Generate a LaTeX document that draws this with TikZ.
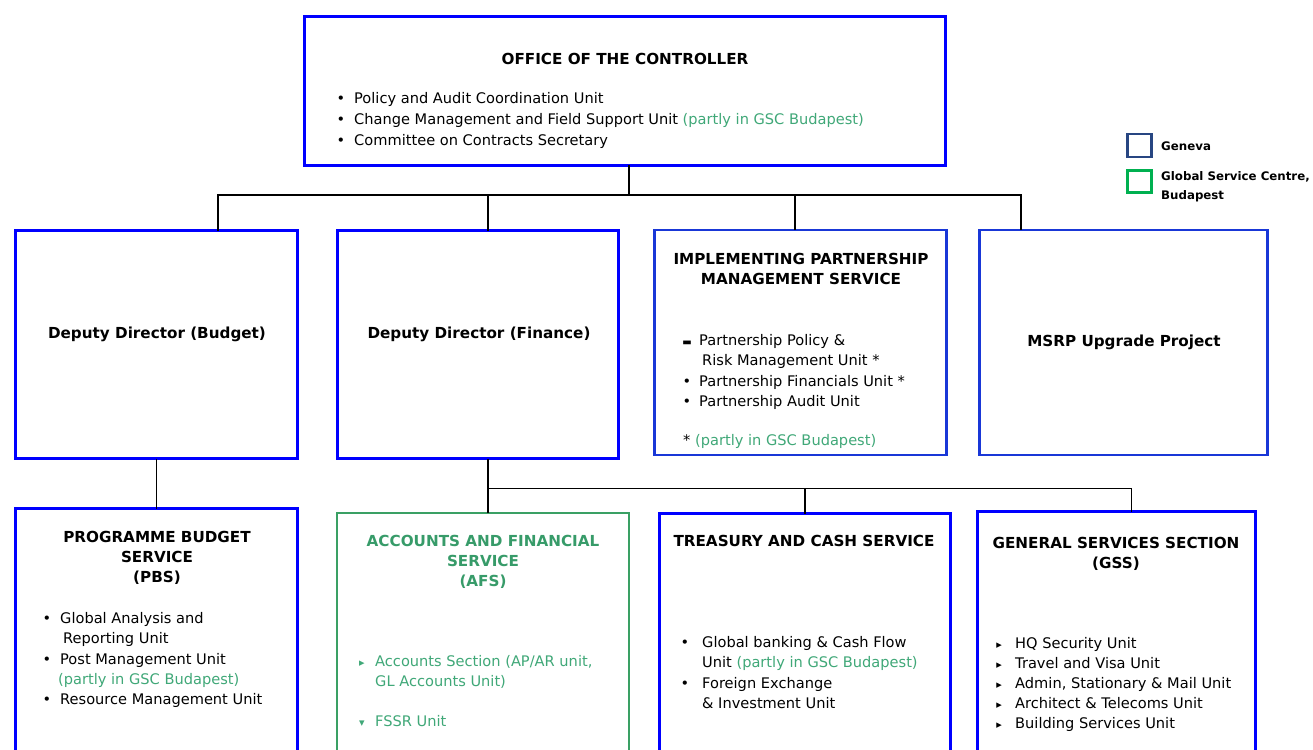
\documentclass[tikz,border=0pt]{standalone}
\usepackage{fontspec}
\setmainfont{DejaVu Sans}
\definecolor{bblue}{RGB}{0,0,255}
\definecolor{dblue}{RGB}{25,55,215}
\definecolor{gbox}{RGB}{58,160,100}
\definecolor{gtext}{RGB}{64,168,120}
\definecolor{gtitle}{RGB}{55,155,105}
\definecolor{legblue}{RGB}{40,70,130}
\definecolor{leggreen}{RGB}{0,176,80}
\tikzset{
  boxb/.style={draw=bblue,line width=3pt,inner sep=0,outer sep=0},
  boxd/.style={draw=dblue,line width=2.5pt,inner sep=0,outer sep=0},
  boxg/.style={draw=gbox,line width=2.5pt,inner sep=0,outer sep=0},
  legbox/.style={line width=2.2pt,inner sep=0,outer sep=0},
  txt/.style={inner sep=0,font=\fontsize{14.6}{17}\selectfont},
  ttl/.style={inner sep=0,font=\fontsize{15.2}{17}\selectfont\bfseries},
  bul/.style={inner sep=0,font=\fontsize{14.5}{17}\selectfont},
  legtxt/.style={inner sep=0,font=\fontsize{11.8}{14}\selectfont\bfseries,anchor=base west},
  conn/.style={line width=2pt,black},
  connthin/.style={line width=1pt,black},
}
\newcommand\MyBox[6]{\node[#6,anchor=north west,minimum width={(#4-#2)*1pt},minimum height={(#5-#3)*1pt}] (#1) at (#2,#3) {};}
\newcommand\MyItem[6]{\node[bul,anchor=base] (#1b) at (#3,#5) {#2};\node[txt,anchor=base west] (#1) at (#4,#5) {#6};}
\newcommand\MyLine[4]{\node[txt,anchor=base west] (#1) at (#2,#3) {#4};}
\newcommand\MyTitle[4]{\node[ttl,anchor=base] (#1) at (#2,#3) {#4};}
\begin{document}
\begin{tikzpicture}[x=1pt,y=-1pt]
\useasboundingbox[fill=white] (0,0) rectangle (1313,749);
% boxes
\MyBox{ctrl}{304.5}{16.5}{945}{165}{boxb}
\MyBox{ddb}{15.5}{230.5}{297.5}{458.5}{boxb}
\MyBox{ddf}{337.5}{230.5}{618.5}{458.5}{boxb}
\MyBox{ipms}{654.5}{230}{946.5}{455}{boxd}
\MyBox{msrp}{979.5}{230}{1267.5}{455}{boxd}
\MyBox{pbs}{15.5}{508.5}{297.5}{790}{boxb}
\MyBox{afs}{337}{513}{629}{790}{boxg}
\MyBox{tcs}{659.5}{513.5}{950.5}{790}{boxb}
\MyBox{gss}{977.5}{511.5}{1255.5}{790}{boxb}
% connectors
\coordinate (jT) at (629,195);
\coordinate (jA) at (218,195);
\coordinate (jB) at (488,195);
\coordinate (jC) at (795,195);
\coordinate (jD) at (1021,195);
\draw[conn] (ctrl.south -| jT) -- (jT);
\draw[conn] (jA |- ddb.north) -- (jA) -- (jD) -- (jD |- msrp.north);
\draw[conn] (jB) -- (jB |- ddf.north);
\draw[conn] (jC) -- (jC |- ipms.north);
\coordinate (jP) at (156.5,480);
\draw[connthin] (jP |- ddb.south) -- (jP |- pbs.north);
\coordinate (jF) at (488,488);
\coordinate (jG) at (805,488);
\coordinate (jH) at (1131,488);
\draw[conn] (jF |- ddf.south) -- (jF |- afs.north);
\draw[connthin] (jF) -- (jH) -- (jH |- gss.north);
\draw[conn] (jG) -- (jG |- tcs.north);
% office of the controller
\MyTitle{t1}{625}{65}{OFFICE OF THE CONTROLLER}
\MyItem{c1}{•}{341}{354}{104}{Policy and Audit Coordination Unit}
\MyItem{c2}{•}{341}{354}{124.5}{Change Management and Field Support Unit {\color{gtext}(partly in GSC Budapest)}}
\MyItem{c3}{•}{341}{354}{145.5}{Committee on Contracts Secretary}
% deputy directors
\MyTitle{t2}{157}{338}{Deputy Director (Budget)}
\MyTitle{t3}{479}{338}{Deputy Director (Finance)}
% IPMS
\MyTitle{t4a}{801}{264.5}{IMPLEMENTING PARTNERSHIP}
\MyTitle{t4b}{801}{284.5}{MANAGEMENT SERVICE}
\MyItem{i1}{\fontsize{10}{12}\selectfont ▬}{687}{699}{345}{Partnership Policy \&}
\MyLine{i1b}{702}{365}{Risk Management Unit *}
\MyItem{i2}{•}{687}{699}{386}{Partnership Financials Unit *}
\MyItem{i3}{•}{687}{699}{406}{Partnership Audit Unit}
\MyLine{i4}{683}{445}{* {\color{gtext}(partly in GSC Budapest)}}
% MSRP
\MyTitle{t5}{1124}{346}{MSRP Upgrade Project}
% PBS
\MyTitle{t6a}{157}{542.5}{PROGRAMME BUDGET}
\MyTitle{t6b}{157}{562.5}{SERVICE}
\MyTitle{t6c}{157}{582.5}{(PBS)}
\MyItem{p1}{•}{47}{60}{623}{Global Analysis and}
\MyLine{p1b}{63}{643}{Reporting Unit}
\MyItem{p2}{•}{47}{60}{664}{Post Management Unit}
\MyLine{p2b}{58}{684}{\color{gtext}(partly in GSC Budapest)}
\MyItem{p3}{•}{47}{60}{704}{Resource Management Unit}
% AFS
\node[ttl,anchor=base,text=gtitle] (t7a) at (483,546.5) {ACCOUNTS AND FINANCIAL};
\node[ttl,anchor=base,text=gtitle] (t7b) at (483,566.5) {SERVICE};
\node[ttl,anchor=base,text=gtitle] (t7c) at (483,586.5) {(AFS)};
\MyItem{a1}{\color{gtext}\fontsize{11}{13}\selectfont ▸}{362}{375}{666}{\color{gtext}Accounts Section (AP/AR unit,}
\MyLine{a1b}{375}{686}{\color{gtext}GL Accounts Unit)}
\MyItem{a2}{\color{gtext}\fontsize{11}{13}\selectfont ▾}{362}{375}{726}{\color{gtext}FSSR Unit}
% Treasury
\MyTitle{t8}{804}{546.5}{TREASURY AND CASH SERVICE}
\MyItem{r1}{•}{685}{702}{647}{Global banking \& Cash Flow}
\MyLine{r1b}{702}{667}{Unit {\color{gtext}(partly in GSC Budapest)}}
\MyItem{r2}{•}{685}{702}{688}{Foreign Exchange}
\MyLine{r2b}{702}{708}{\& Investment Unit}
% GSS
\MyTitle{t9a}{1116}{548.5}{GENERAL SERVICES SECTION}
\MyTitle{t9b}{1116}{568.5}{(GSS)}
\MyItem{g1}{\fontsize{11}{13}\selectfont ▸}{999}{1015}{648}{HQ Security Unit}
\MyItem{g2}{\fontsize{11}{13}\selectfont ▸}{999}{1015}{668}{Travel and Visa Unit}
\MyItem{g3}{\fontsize{11}{13}\selectfont ▸}{999}{1015}{688}{Admin, Stationary \& Mail Unit}
\MyItem{g4}{\fontsize{11}{13}\selectfont ▸}{999}{1015}{708}{Architect \& Telecoms Unit}
\MyItem{g5}{\fontsize{11}{13}\selectfont ▸}{999}{1015}{728}{Building Services Unit}
% legend
\MyBox{lg1}{1127.5}{134}{1151.5}{157}{legbox,draw=legblue}
\MyBox{lg2}{1127.5}{170.5}{1151.5}{192.5}{legbox,draw=leggreen}
\node[legtxt] (l1) at (1161,150.5) {Geneva};
\node[legtxt] (l2) at (1161,180.5) {Global Service Centre,};
\node[legtxt] (l3) at (1161,199.5) {Budapest};
\end{tikzpicture}
\end{document}
